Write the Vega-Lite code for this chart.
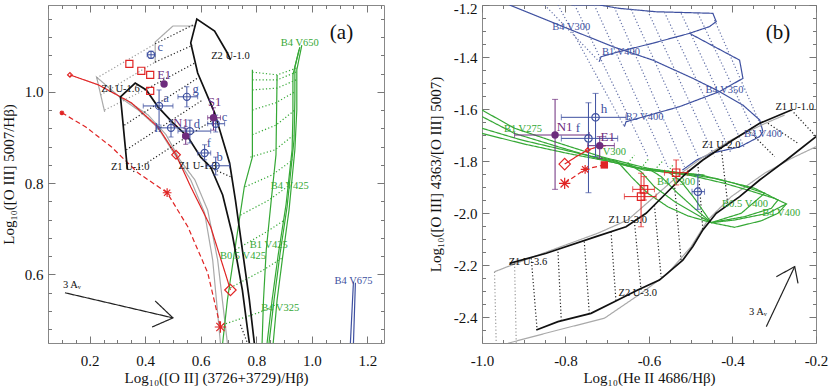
{
"$schema":"https://vega.github.io/schema/vega-lite/v6.json",
"padding":{"left":0,"top":0,"right":0,"bottom":0},
"bounds":"flush",
"spacing":98,
"config":{"font":"Liberation Serif","view":{"stroke":"#888","strokeWidth":1},"axis":{"grid":false,"domain":false,"tickColor":"#777","labelColor":"#111","titleColor":"#111","labelFontSize":15,"titleFontSize":15,"titleFontWeight":"normal","labelFlush":false,"labelOverlap":false}},
"datasets":{
"la":[
{"s":"A","k":"Z","x":0.336,"y":0.83},{"s":"A","k":"Z","x":0.311,"y":0.989},{"s":"A","k":"Z","x":0.364,"y":1.019},{"s":"A","k":"Z","x":0.404,"y":1.004},{"s":"A","k":"Z","x":0.446,"y":0.967},{"s":"A","k":"Z","x":0.5,"y":0.932},{"s":"A","k":"Z","x":0.554,"y":0.901},{"s":"A","k":"Z","x":0.6,"y":0.857},{"s":"A","k":"Z","x":0.636,"y":0.835},{"s":"A","k":"Z","x":0.679,"y":0.774},{"s":"A","k":"Z","x":0.714,"y":0.687},{"s":"A","k":"Z","x":0.75,"y":0.566},{"s":"A","k":"Z","x":0.775,"y":0.45},
{"s":"Bt","k":"Z","x":0.707,"y":1.07},{"s":"Bt","k":"Z","x":0.696,"y":1.085},{"s":"Bt","k":"Z","x":0.65,"y":1.133},{"s":"Bt","k":"Z","x":0.586,"y":1.159},{"s":"Bt","k":"Z","x":0.564,"y":1.107},{"s":"Bt","k":"Z","x":0.589,"y":1.041},{"s":"Bt","k":"Z","x":0.65,"y":0.954},{"s":"Bt","k":"Z","x":0.679,"y":0.895},{"s":"Bt","k":"Z","x":0.704,"y":0.844},{"s":"Bt","k":"Z","x":0.725,"y":0.763},{"s":"Bt","k":"Z","x":0.75,"y":0.654},{"s":"Bt","k":"Z","x":0.775,"y":0.545},{"s":"Bt","k":"Z","x":0.793,"y":0.45},
{"s":"G1","k":"Zg","x":0.254,"y":0.956},{"s":"G1","k":"Zg","x":0.225,"y":1.032},{"s":"G1","k":"Zg","x":0.311,"y":0.987},{"s":"G1","k":"Zg","x":0.375,"y":0.96},{"s":"G1","k":"Zg","x":0.446,"y":0.921},{"s":"G1","k":"Zg","x":0.507,"y":0.862},{"s":"G1","k":"Zg","x":0.564,"y":0.807},{"s":"G1","k":"Zg","x":0.614,"y":0.735},{"s":"G1","k":"Zg","x":0.643,"y":0.632},{"s":"G1","k":"Zg","x":0.671,"y":0.45},
{"s":"G2","k":"Zg","x":0.332,"y":0.982},{"s":"G2","k":"Zg","x":0.411,"y":0.949},{"s":"G2","k":"Zg","x":0.475,"y":0.906},{"s":"G2","k":"Zg","x":0.525,"y":0.851},{"s":"G2","k":"Zg","x":0.579,"y":0.807},{"s":"G2","k":"Zg","x":0.625,"y":0.741},{"s":"G2","k":"Zg","x":0.661,"y":0.632},{"s":"G2","k":"Zg","x":0.696,"y":0.45},
{"s":"G3","k":"Zg","x":0.436,"y":1.063},{"s":"G3","k":"Zg","x":0.436,"y":1.109},{"s":"G3","k":"Zg","x":0.5,"y":1.144},{"s":"G3","k":"Zg","x":0.579,"y":1.144},
{"s":"Rs","k":"R","x":0.129,"y":1.037},{"s":"Rs","k":"R","x":0.232,"y":1.015},{"s":"Rs","k":"R","x":0.35,"y":0.976},{"s":"Rs","k":"R","x":0.446,"y":0.923},{"s":"Rs","k":"R","x":0.511,"y":0.862},{"s":"Rs","k":"R","x":0.564,"y":0.792},{"s":"Rs","k":"R","x":0.636,"y":0.704},{"s":"Rs","k":"R","x":0.696,"y":0.588},{"s":"Rs","k":"R","x":0.707,"y":0.566},
{"s":"Rd","k":"Rd","x":0.1,"y":0.954},{"s":"Rd","k":"Rd","x":0.186,"y":0.923},{"s":"Rd","k":"Rd","x":0.279,"y":0.879},{"s":"Rd","k":"Rd","x":0.375,"y":0.822},{"s":"Rd","k":"Rd","x":0.479,"y":0.779},{"s":"Rd","k":"Rd","x":0.554,"y":0.704},{"s":"Rd","k":"Rd","x":0.625,"y":0.604},{"s":"Rd","k":"Rd","x":0.671,"y":0.485},
{"s":"gL","k":"B","x":0.786,"y":1.048},{"s":"gL","k":"B","x":0.786,"y":0.857},{"s":"gL","k":"B","x":0.757,"y":0.792},{"s":"gL","k":"B","x":0.721,"y":0.647},{"s":"gL","k":"B","x":0.696,"y":0.544},{"s":"gL","k":"B","x":0.679,"y":0.45},
{"s":"gM","k":"B","x":0.875,"y":1.037},{"s":"gM","k":"B","x":0.871,"y":0.862},{"s":"gM","k":"B","x":0.854,"y":0.763},{"s":"gM","k":"B","x":0.836,"y":0.654},{"s":"gM","k":"B","x":0.826,"y":0.544},{"s":"gM","k":"B","x":0.821,"y":0.45},
{"s":"gR1","k":"B","x":0.957,"y":1.098},{"s":"gR1","k":"B","x":0.939,"y":1.054},{"s":"gR1","k":"B","x":0.939,"y":0.982},{"s":"gR1","k":"B","x":0.936,"y":0.895},{"s":"gR1","k":"B","x":0.911,"y":0.748},{"s":"gR1","k":"B","x":0.886,"y":0.647},{"s":"gR1","k":"B","x":0.864,"y":0.544},{"s":"gR1","k":"B","x":0.846,"y":0.45},
{"s":"gR2","k":"B","x":0.964,"y":1.102},{"s":"gR2","k":"B","x":0.946,"y":1.048},{"s":"gR2","k":"B","x":0.946,"y":0.96},{"s":"gR2","k":"B","x":0.939,"y":0.873},{"s":"gR2","k":"B","x":0.918,"y":0.741},{"s":"gR2","k":"B","x":0.896,"y":0.643},{"s":"gR2","k":"B","x":0.875,"y":0.544},{"s":"gR2","k":"B","x":0.861,"y":0.45},
{"s":"gR3","k":"B","x":0.954,"y":1.092},{"s":"gR3","k":"B","x":0.932,"y":1.037},{"s":"gR3","k":"B","x":0.932,"y":0.949},{"s":"gR3","k":"B","x":0.929,"y":0.873},{"s":"gR3","k":"B","x":0.907,"y":0.752},{"s":"gR3","k":"B","x":0.879,"y":0.643},{"s":"gR3","k":"B","x":0.857,"y":0.544},{"s":"gR3","k":"B","x":0.839,"y":0.45},
{"s":"r1","k":"Bd","x":0.786,"y":1.043},{"s":"r1","k":"Bd","x":0.875,"y":1.037},{"s":"r1","k":"Bd","x":0.946,"y":1.052},
{"s":"r2","k":"Bd","x":0.786,"y":1.026},{"s":"r2","k":"Bd","x":0.875,"y":1.026},{"s":"r2","k":"Bd","x":0.943,"y":1.043},
{"s":"r3","k":"Bd","x":0.786,"y":1.004},{"s":"r3","k":"Bd","x":0.875,"y":1.008},{"s":"r3","k":"Bd","x":0.943,"y":1.026},
{"s":"r4","k":"Bd","x":0.786,"y":0.96},{"s":"r4","k":"Bd","x":0.871,"y":0.976},{"s":"r4","k":"Bd","x":0.939,"y":1.0},
{"s":"r5","k":"Bd","x":0.786,"y":0.906},{"s":"r5","k":"Bd","x":0.871,"y":0.927},{"s":"r5","k":"Bd","x":0.939,"y":0.96},
{"s":"r6","k":"Bd","x":0.779,"y":0.857},{"s":"r6","k":"Bd","x":0.868,"y":0.873},{"s":"r6","k":"Bd","x":0.936,"y":0.906},
{"s":"r7","k":"Bd","x":0.761,"y":0.792},{"s":"r7","k":"Bd","x":0.857,"y":0.818},{"s":"r7","k":"Bd","x":0.932,"y":0.851},
{"s":"r8","k":"Bd","x":0.743,"y":0.73},{"s":"r8","k":"Bd","x":0.846,"y":0.763},{"s":"r8","k":"Bd","x":0.921,"y":0.796},
{"s":"r9","k":"Bd","x":0.725,"y":0.654},{"s":"r9","k":"Bd","x":0.836,"y":0.693},{"s":"r9","k":"Bd","x":0.904,"y":0.72},
{"s":"r10","k":"Bd","x":0.707,"y":0.571},{"s":"r10","k":"Bd","x":0.826,"y":0.61},{"s":"r10","k":"Bd","x":0.893,"y":0.636},
{"s":"r11","k":"Bd","x":0.679,"y":0.49},{"s":"r11","k":"Bd","x":0.816,"y":0.518},{"s":"r11","k":"Bd","x":0.868,"y":0.533},
{"s":"d1g","k":"Zgd","x":0.225,"y":1.03},{"s":"d1g","k":"Zgd","x":0.436,"y":1.105},
{"s":"d2g","k":"Zgd","x":0.239,"y":0.993},{"s":"d2g","k":"Zgd","x":0.436,"y":1.065},
{"s":"d3g","k":"Zgd","x":0.254,"y":0.96},{"s":"d3g","k":"Zgd","x":0.411,"y":1.008},
{"s":"d1b","k":"Zd","x":0.436,"y":1.105},{"s":"d1b","k":"Zd","x":0.571,"y":1.146},
{"s":"d2b","k":"Zd","x":0.436,"y":1.065},{"s":"d2b","k":"Zd","x":0.571,"y":1.102},
{"s":"d3b","k":"Zd","x":0.411,"y":1.008},{"s":"d3b","k":"Zd","x":0.579,"y":1.063},
{"s":"d4","k":"Zd","x":0.325,"y":0.927},{"s":"d4","k":"Zd","x":0.589,"y":1.03},
{"s":"d5","k":"Zd","x":0.332,"y":0.873},{"s":"d5","k":"Zd","x":0.607,"y":0.982},
{"s":"d6","k":"Zd","x":0.357,"y":0.825},{"s":"d6","k":"Zd","x":0.643,"y":0.938},
{"s":"d7","k":"Zd","x":0.636,"y":0.833},{"s":"d7","k":"Zd","x":0.707,"y":0.814},
{"s":"d8","k":"Zd","x":0.743,"y":0.49},{"s":"d8","k":"Zd","x":0.768,"y":0.45},
{"s":"bv1","k":"Bb","x":1.15,"y":0.584},{"s":"bv1","k":"Bb","x":1.139,"y":0.45},
{"s":"bv2","k":"Bb","x":1.157,"y":0.582},{"s":"bv2","k":"Bb","x":1.15,"y":0.45},
{"s":"ar","k":"Ar","x":0.111,"y":0.56},{"s":"ar","k":"Ar","x":0.5,"y":0.505},
{"s":"ah","k":"Ar","x":0.436,"y":0.542},{"s":"ah","k":"Ar","x":0.5,"y":0.505},{"s":"ah","k":"Ar","x":0.425,"y":0.485}
],
"lb":[
{"s":"BLt","k":"Bb","x":-0.786,"y":-1.2},{"s":"BLt","k":"Bb","x":-0.719,"y":-1.2},{"s":"BLt","k":"Bb","x":-0.671,"y":-1.213},{"s":"BLt","k":"Bb","x":-0.583,"y":-1.226},{"s":"BLt","k":"Bb","x":-0.447,"y":-1.232},{"s":"BLt","k":"Bb","x":-0.439,"y":-1.264},{"s":"BLt","k":"Bb","x":-0.455,"y":-1.283},{"s":"BLt","k":"Bb","x":-0.503,"y":-1.309},{"s":"BLt","k":"Bb","x":-0.591,"y":-1.347},{"s":"BLt","k":"Bb","x":-0.671,"y":-1.379},{"s":"BLt","k":"Bb","x":-0.715,"y":-1.399},{"s":"BLt","k":"Bb","x":-0.719,"y":-1.418},
{"s":"BLa","k":"Bb","x":-0.934,"y":-1.2},{"s":"BLa","k":"Bb","x":-0.806,"y":-1.283},{"s":"BLa","k":"Bb","x":-0.687,"y":-1.36},{"s":"BLa","k":"Bb","x":-0.591,"y":-1.412},{"s":"BLa","k":"Bb","x":-0.495,"y":-1.482},{"s":"BLa","k":"Bb","x":-0.431,"y":-1.533},{"s":"BLa","k":"Bb","x":-0.375,"y":-1.585},{"s":"BLa","k":"Bb","x":-0.335,"y":-1.642},{"s":"BLa","k":"Bb","x":-0.327,"y":-1.687},{"s":"BLa","k":"Bb","x":-0.335,"y":-1.706},{"s":"BLa","k":"Bb","x":-0.383,"y":-1.746},{"s":"BLa","k":"Bb","x":-0.448,"y":-1.769},{"s":"BLa","k":"Bb","x":-0.486,"y":-1.796},{"s":"BLa","k":"Bb","x":-0.52,"y":-1.835},
{"s":"BLc","k":"Bb","x":-0.503,"y":-1.309},{"s":"BLc","k":"Bb","x":-0.383,"y":-1.412},{"s":"BLc","k":"Bb","x":-0.375,"y":-1.482},{"s":"BLc","k":"Bb","x":-0.431,"y":-1.533},{"s":"BLc","k":"Bb","x":-0.527,"y":-1.591},{"s":"BLc","k":"Bb","x":-0.655,"y":-1.649},{"s":"BLc","k":"Bb","x":-0.659,"y":-1.668},
{"s":"bd1","k":"Bbd","x":-0.85,"y":-1.2},{"s":"bd1","k":"Bbd","x":-0.719,"y":-1.418},
{"s":"bd2","k":"Bbd","x":-0.818,"y":-1.2},{"s":"bd2","k":"Bbd","x":-0.659,"y":-1.668},
{"s":"bd3","k":"Bbd","x":-0.778,"y":-1.2},{"s":"bd3","k":"Bbd","x":-0.603,"y":-1.783},
{"s":"bd4","k":"Bbd","x":-0.731,"y":-1.2},{"s":"bd4","k":"Bbd","x":-0.555,"y":-1.822},
{"s":"bd5","k":"Bbd","x":-0.683,"y":-1.209},{"s":"bd5","k":"Bbd","x":-0.515,"y":-1.822},
{"s":"bd6","k":"Bbd","x":-0.643,"y":-1.217},{"s":"bd6","k":"Bbd","x":-0.475,"y":-1.809},
{"s":"bd7","k":"Bbd","x":-0.603,"y":-1.223},{"s":"bd7","k":"Bbd","x":-0.443,"y":-1.783},
{"s":"bd8","k":"Bbd","x":-0.563,"y":-1.228},{"s":"bd8","k":"Bbd","x":-0.403,"y":-1.771},
{"s":"bd9","k":"Bbd","x":-0.523,"y":-1.232},{"s":"bd9","k":"Bbd","x":-0.371,"y":-1.751},
{"s":"bd10","k":"Bbd","x":-0.483,"y":-1.232},{"s":"bd10","k":"Bbd","x":-0.339,"y":-1.719},
{"s":"bd11","k":"Bbd","x":-0.443,"y":-1.258},{"s":"bd11","k":"Bbd","x":-0.331,"y":-1.668},
{"s":"BU","k":"Z","x":-0.934,"y":-2.194},{"s":"BU","k":"Z","x":-0.846,"y":-2.155},{"s":"BU","k":"Z","x":-0.727,"y":-2.091},{"s":"BU","k":"Z","x":-0.655,"y":-2.053},{"s":"BU","k":"Z","x":-0.607,"y":-2.001},{"s":"BU","k":"Z","x":-0.559,"y":-1.924},{"s":"BU","k":"Z","x":-0.511,"y":-1.847},{"s":"BU","k":"Z","x":-0.471,"y":-1.796},{"s":"BU","k":"Z","x":-0.399,"y":-1.719},{"s":"BU","k":"Z","x":-0.335,"y":-1.655},{"s":"BU","k":"Z","x":-0.259,"y":-1.604},
{"s":"BLo","k":"Z","x":-0.87,"y":-2.45},{"s":"BLo","k":"Z","x":-0.818,"y":-2.418},{"s":"BLo","k":"Z","x":-0.739,"y":-2.386},{"s":"BLo","k":"Z","x":-0.683,"y":-2.341},{"s":"BLo","k":"Z","x":-0.627,"y":-2.296},{"s":"BLo","k":"Z","x":-0.575,"y":-2.258},{"s":"BLo","k":"Z","x":-0.519,"y":-2.181},{"s":"BLo","k":"Z","x":-0.495,"y":-2.129},{"s":"BLo","k":"Z","x":-0.471,"y":-2.065},{"s":"BLo","k":"Z","x":-0.439,"y":-2.001},{"s":"BLo","k":"Z","x":-0.383,"y":-1.937},{"s":"BLo","k":"Z","x":-0.335,"y":-1.873},{"s":"BLo","k":"Z","x":-0.271,"y":-1.796},{"s":"BLo","k":"Z","x":-0.2,"y":-1.706},
{"s":"GU","k":"Zg","x":-0.97,"y":-2.226},{"s":"GU","k":"Zg","x":-0.898,"y":-2.181},{"s":"GU","k":"Zg","x":-0.81,"y":-2.129},{"s":"GU","k":"Zg","x":-0.723,"y":-2.078},{"s":"GU","k":"Zg","x":-0.651,"y":-2.027},{"s":"GU","k":"Zg","x":-0.587,"y":-1.937},{"s":"GU","k":"Zg","x":-0.523,"y":-1.847},{"s":"GU","k":"Zg","x":-0.475,"y":-1.79},{"s":"GU","k":"Zg","x":-0.403,"y":-1.719},{"s":"GU","k":"Zg","x":-0.331,"y":-1.662},{"s":"GU","k":"Zg","x":-0.275,"y":-1.623},
{"s":"GLo","k":"Zg","x":-0.938,"y":-2.501},{"s":"GLo","k":"Zg","x":-0.818,"y":-2.45},{"s":"GLo","k":"Zg","x":-0.707,"y":-2.405},{"s":"GLo","k":"Zg","x":-0.619,"y":-2.309},{"s":"GLo","k":"Zg","x":-0.555,"y":-2.232},{"s":"GLo","k":"Zg","x":-0.499,"y":-2.129},{"s":"GLo","k":"Zg","x":-0.459,"y":-2.027},{"s":"GLo","k":"Zg","x":-0.403,"y":-1.937},{"s":"GLo","k":"Zg","x":-0.323,"y":-1.847},{"s":"GLo","k":"Zg","x":-0.259,"y":-1.79},{"s":"GLo","k":"Zg","x":-0.2,"y":-1.745},
{"s":"zd1","k":"Zd","x":-0.882,"y":-2.174},{"s":"zd1","k":"Zd","x":-0.868,"y":-2.45},
{"s":"zd2","k":"Zd","x":-0.818,"y":-2.149},{"s":"zd2","k":"Zd","x":-0.81,"y":-2.418},
{"s":"zd3","k":"Zd","x":-0.755,"y":-2.11},{"s":"zd3","k":"Zd","x":-0.743,"y":-2.386},
{"s":"zd4","k":"Zd","x":-0.691,"y":-2.072},{"s":"zd4","k":"Zd","x":-0.679,"y":-2.341},
{"s":"zd5","k":"Zd","x":-0.635,"y":-2.033},{"s":"zd5","k":"Zd","x":-0.619,"y":-2.296},
{"s":"zd6","k":"Zd","x":-0.587,"y":-1.97},{"s":"zd6","k":"Zd","x":-0.571,"y":-2.245},
{"s":"zd7","k":"Zd","x":-0.539,"y":-1.89},{"s":"zd7","k":"Zd","x":-0.523,"y":-2.187},
{"s":"zd8","k":"Zd","x":-0.483,"y":-1.81},{"s":"zd8","k":"Zd","x":-0.471,"y":-2.065},
{"s":"zd9","k":"Zd","x":-0.427,"y":-1.75},{"s":"zd9","k":"Zd","x":-0.411,"y":-1.97},
{"s":"zd10","k":"Zd","x":-0.259,"y":-1.604},{"s":"zd10","k":"Zd","x":-0.2,"y":-1.706},
{"s":"zd11","k":"Zd","x":-0.315,"y":-1.655},{"s":"zd11","k":"Zd","x":-0.243,"y":-1.732},
{"s":"zd12","k":"Zd","x":-0.363,"y":-1.681},{"s":"zd12","k":"Zd","x":-0.299,"y":-1.783},
{"s":"gd1","k":"Zgd","x":-0.97,"y":-2.226},{"s":"gd1","k":"Zgd","x":-0.966,"y":-2.5},
{"s":"gd2","k":"Zgd","x":-0.922,"y":-2.194},{"s":"gd2","k":"Zgd","x":-0.918,"y":-2.5},
{"s":"GL1","k":"B","x":-1.0,"y":-1.604},{"s":"GL1","k":"B","x":-0.922,"y":-1.674},{"s":"GL1","k":"B","x":-0.826,"y":-1.726},{"s":"GL1","k":"B","x":-0.715,"y":-1.783},{"s":"GL1","k":"B","x":-0.651,"y":-1.809},{"s":"GL1","k":"B","x":-0.603,"y":-1.828},{"s":"GL1","k":"B","x":-0.523,"y":-1.847},{"s":"GL1","k":"B","x":-0.443,"y":-1.867},{"s":"GL1","k":"B","x":-0.395,"y":-1.886},{"s":"GL1","k":"B","x":-0.323,"y":-1.924},{"s":"GL1","k":"B","x":-0.291,"y":-1.95},{"s":"GL1","k":"B","x":-0.307,"y":-1.982},{"s":"GL1","k":"B","x":-0.371,"y":-2.014},{"s":"GL1","k":"B","x":-0.451,"y":-2.037},
{"s":"GL2","k":"B","x":-1.0,"y":-1.629},{"s":"GL2","k":"B","x":-0.922,"y":-1.694},{"s":"GL2","k":"B","x":-0.818,"y":-1.745},{"s":"GL2","k":"B","x":-0.715,"y":-1.794},{"s":"GL2","k":"B","x":-0.643,"y":-1.822},{"s":"GL2","k":"B","x":-0.571,"y":-1.841},{"s":"GL2","k":"B","x":-0.499,"y":-1.856},{"s":"GL2","k":"B","x":-0.419,"y":-1.886},{"s":"GL2","k":"B","x":-0.363,"y":-1.912},{"s":"GL2","k":"B","x":-0.299,"y":-1.944},{"s":"GL2","k":"B","x":-0.271,"y":-1.965},{"s":"GL2","k":"B","x":-0.315,"y":-2.001},{"s":"GL2","k":"B","x":-0.395,"y":-2.027},{"s":"GL2","k":"B","x":-0.451,"y":-2.037},
{"s":"GL3","k":"B","x":-1.0,"y":-1.674},{"s":"GL3","k":"B","x":-0.906,"y":-1.719},{"s":"GL3","k":"B","x":-0.802,"y":-1.758},{"s":"GL3","k":"B","x":-0.699,"y":-1.796},{"s":"GL3","k":"B","x":-0.619,"y":-1.828},{"s":"GL3","k":"B","x":-0.547,"y":-1.841},{"s":"GL3","k":"B","x":-0.475,"y":-1.854},{"s":"GL3","k":"B","x":-0.411,"y":-1.879},{"s":"GL3","k":"B","x":-0.347,"y":-1.905},{"s":"GL3","k":"B","x":-0.323,"y":-1.924},{"s":"GL3","k":"B","x":-0.379,"y":-2.001},{"s":"GL3","k":"B","x":-0.451,"y":-2.037},
{"s":"GL4","k":"B","x":-1.0,"y":-1.694},{"s":"GL4","k":"B","x":-0.898,"y":-1.735},{"s":"GL4","k":"B","x":-0.794,"y":-1.771},{"s":"GL4","k":"B","x":-0.691,"y":-1.803},{"s":"GL4","k":"B","x":-0.611,"y":-1.835},{"s":"GL4","k":"B","x":-0.539,"y":-1.845},{"s":"GL4","k":"B","x":-0.467,"y":-1.854},
{"s":"Garc","k":"B","x":-0.451,"y":-2.037},{"s":"Garc","k":"B","x":-0.395,"y":-2.055},{"s":"Garc","k":"B","x":-0.331,"y":-2.03},{"s":"Garc","k":"B","x":-0.291,"y":-2.001},{"s":"Garc","k":"B","x":-0.271,"y":-1.965},
{"s":"GC1","k":"B","x":-0.715,"y":-1.786},{"s":"GC1","k":"B","x":-0.675,"y":-1.803},{"s":"GC1","k":"B","x":-0.643,"y":-1.86},{"s":"GC1","k":"B","x":-0.603,"y":-1.924},{"s":"GC1","k":"B","x":-0.555,"y":-1.976},{"s":"GC1","k":"B","x":-0.507,"y":-2.011},{"s":"GC1","k":"B","x":-0.451,"y":-2.037},
{"s":"GC2","k":"B","x":-0.651,"y":-1.809},{"s":"GC2","k":"B","x":-0.619,"y":-1.841},{"s":"GC2","k":"B","x":-0.587,"y":-1.899},{"s":"GC2","k":"B","x":-0.539,"y":-1.956},{"s":"GC2","k":"B","x":-0.491,"y":-2.001},{"s":"GC2","k":"B","x":-0.451,"y":-2.037},
{"s":"GC3","k":"B","x":-0.603,"y":-1.828},{"s":"GC3","k":"B","x":-0.571,"y":-1.86},{"s":"GC3","k":"B","x":-0.531,"y":-1.924},{"s":"GC3","k":"B","x":-0.491,"y":-1.982},{"s":"GC3","k":"B","x":-0.451,"y":-2.037},
{"s":"GC4","k":"B","x":-0.555,"y":-1.841},{"s":"GC4","k":"B","x":-0.523,"y":-1.879},{"s":"GC4","k":"B","x":-0.491,"y":-1.944},{"s":"GC4","k":"B","x":-0.451,"y":-2.037},
{"s":"h1","k":"Bd","x":-0.651,"y":-1.809},{"s":"h1","k":"Bd","x":-0.635,"y":-1.777},
{"s":"h2","k":"Bd","x":-0.619,"y":-1.828},{"s":"h2","k":"Bd","x":-0.6,"y":-1.79},
{"s":"h3","k":"Bd","x":-0.587,"y":-1.835},{"s":"h3","k":"Bd","x":-0.567,"y":-1.8},
{"s":"h4","k":"Bd","x":-0.555,"y":-1.841},{"s":"h4","k":"Bd","x":-0.54,"y":-1.81},
{"s":"Rs","k":"R","x":-0.802,"y":-1.812},{"s":"Rs","k":"R","x":-0.774,"y":-1.783},{"s":"Rs","k":"R","x":-0.747,"y":-1.758},{"s":"Rs","k":"R","x":-0.723,"y":-1.745},{"s":"Rs","k":"R","x":-0.703,"y":-1.741},
{"s":"Rd","k":"Rd","x":-0.802,"y":-1.886},{"s":"Rd","k":"Rd","x":-0.753,"y":-1.832},{"s":"Rd","k":"Rd","x":-0.707,"y":-1.815},
{"s":"ar","k":"Ar","x":-0.319,"y":-2.437},{"s":"ar","k":"Ar","x":-0.251,"y":-2.206},
{"s":"ah","k":"Ar","x":-0.295,"y":-2.245},{"s":"ah","k":"Ar","x":-0.251,"y":-2.206},{"s":"ah","k":"Ar","x":-0.243,"y":-2.271}
],
"ea":[
{"x":0.421,"y":1.081,"xlo":0.407,"xhi":0.436,"ylo":1.073,"yhi":1.089,"k":"knot"},
{"x":0.45,"y":0.969,"xlo":0.393,"xhi":0.5,"ylo":0.927,"yhi":1.004,"k":"knot"},
{"x":0.55,"y":0.989,"xlo":0.518,"xhi":0.589,"ylo":0.967,"yhi":1.011,"k":"knot"},
{"x":0.493,"y":0.921,"xlo":0.439,"xhi":0.543,"ylo":0.901,"yhi":0.938,"k":"knot"},
{"x":0.561,"y":0.914,"xlo":0.518,"xhi":0.636,"ylo":0.888,"yhi":0.938,"k":"knot"},
{"x":0.654,"y":0.93,"xlo":0.625,"xhi":0.686,"ylo":0.912,"yhi":0.949,"k":"knot"},
{"x":0.614,"y":0.866,"xlo":0.589,"xhi":0.636,"ylo":0.851,"yhi":0.884,"k":"knot"},
{"x":0.654,"y":0.838,"xlo":0.618,"xhi":0.704,"ylo":0.818,"yhi":0.857,"k":"knot"},
{"x":0.646,"y":0.943,"xlo":0.625,"xhi":0.671,"ylo":0.916,"yhi":0.965,"k":"star"},
{"x":0.546,"y":0.903,"xlo":0.535,"xhi":0.557,"ylo":0.885,"yhi":0.92,"k":"star"}
],
"eb":[
{"x":-0.825,"y":-1.7,"xlo":-0.922,"xhi":-0.743,"ylo":-1.909,"yhi":-1.563,"k":"star"},
{"x":-0.718,"y":-1.741,"xlo":-0.747,"xhi":-0.683,"ylo":-1.79,"yhi":-1.706,"k":"star"},
{"x":-0.745,"y":-1.713,"xlo":-0.81,"xhi":-0.675,"ylo":-1.922,"yhi":-1.576,"k":"knot"},
{"x":-0.728,"y":-1.632,"xlo":-0.81,"xhi":-0.655,"ylo":-1.783,"yhi":-1.54,"k":"knot"},
{"x":-0.483,"y":-1.918,"xlo":-0.497,"xhi":-0.467,"ylo":-1.986,"yhi":-1.854,"k":"knot"},
{"x":-0.612,"y":-1.909,"xlo":-0.639,"xhi":-0.587,"ylo":-1.95,"yhi":-1.86,"k":"sq"},
{"x":-0.619,"y":-1.937,"xlo":-0.659,"xhi":-0.583,"ylo":-2.053,"yhi":-1.847,"k":"sq"},
{"x":-0.535,"y":-1.845,"xlo":-0.563,"xhi":-0.507,"ylo":-1.892,"yhi":-1.796,"k":"sq"}
],
"pa":[
{"g":"knot","x":0.421,"y":1.081},{"g":"knot","x":0.45,"y":0.969},{"g":"knot","x":0.55,"y":0.989},{"g":"knot","x":0.493,"y":0.921},{"g":"knot","x":0.561,"y":0.914},{"g":"knot","x":0.654,"y":0.93},{"g":"knot","x":0.614,"y":0.866},{"g":"knot","x":0.654,"y":0.838},
{"g":"sq","x":0.343,"y":1.061},{"g":"sq","x":0.386,"y":1.046},{"g":"sq","x":0.418,"y":1.037},{"g":"sq","x":0.418,"y":1.002},
{"g":"solid","n":1,"x":0.129,"y":1.037},{"g":"solid","n":2,"x":0.511,"y":0.862},{"g":"solid","n":3,"x":0.707,"y":0.566},
{"g":"dash","n":1,"x":0.1,"y":0.954},{"g":"dash","n":2,"x":0.479,"y":0.779},{"g":"dash","n":3,"x":0.671,"y":0.485}
],
"pb":[
{"g":"knot","x":-0.745,"y":-1.713},{"g":"knot","x":-0.728,"y":-1.632},{"g":"knot","x":-0.483,"y":-1.918},
{"g":"sq","x":-0.612,"y":-1.909},{"g":"sq","x":-0.619,"y":-1.937},{"g":"sq","x":-0.535,"y":-1.845},
{"g":"solid","n":3,"x":-0.802,"y":-1.812},{"g":"solid","n":1,"x":-0.747,"y":-1.758},
{"g":"dash","n":3,"x":-0.802,"y":-1.886},{"g":"dash","n":2,"x":-0.753,"y":-1.832}
],
"fa":[{"g":"star","x":0.468,"y":1.017},{"g":"star","x":0.646,"y":0.943},{"g":"star","x":0.546,"y":0.903}],
"fb":[{"g":"star","x":-0.825,"y":-1.7},{"g":"star","x":-0.718,"y":-1.741},{"g":"sq","x":-0.707,"y":-1.815}],
"ta":[
{"t":"Z2 U-1.0","x":0.707,"y":1.078,"k":"Z"},{"t":"Z1 U-1.6","x":0.311,"y":1.006,"k":"Z"},{"t":"Z1 U-1.0","x":0.346,"y":0.835,"k":"Z"},{"t":"Z1 U-1.3","x":0.589,"y":0.838,"k":"Z"},
{"t":"B4 V650","x":0.957,"y":1.107,"k":"B"},{"t":"B4 V425","x":0.921,"y":0.794,"k":"B"},{"t":"B1 V425","x":0.845,"y":0.664,"k":"B"},{"t":"B0.5 V425","x":0.752,"y":0.641,"k":"B"},{"t":"B4 V325","x":0.886,"y":0.527,"k":"B"},
{"t":"B4 V675","x":1.15,"y":0.586,"k":"Bb"},{"t":"3 Aᵥ","x":0.136,"y":0.577,"k":"Z"}
],
"oa":[
{"t":"c","x":0.454,"y":1.098,"k":"knot"},{"t":"a","x":0.475,"y":0.987,"k":"knot"},{"t":"g","x":0.582,"y":1.006,"k":"knot"},{"t":"h","x":0.446,"y":0.921,"k":"knot"},{"t":"d","x":0.586,"y":0.93,"k":"knot"},{"t":"c","x":0.686,"y":0.945,"k":"knot"},{"t":"f","x":0.629,"y":0.888,"k":"knot"},{"t":"b","x":0.668,"y":0.857,"k":"knot"},
{"t":"E1","x":0.468,"y":1.037,"k":"star"},{"t":"S1","x":0.65,"y":0.978,"k":"star"},{"t":"N1","x":0.529,"y":0.932,"k":"star"}
],
"tb":[
{"t":"B1 V275","x":-0.902,"y":-1.677,"k":"B"},{"t":"V300","x":-0.683,"y":-1.764,"k":"B"},{"t":"B4 V300","x":-0.535,"y":-1.879,"k":"B"},{"t":"B0.5 V400","x":-0.37,"y":-1.965,"k":"B"},{"t":"B4 V400","x":-0.283,"y":-1.999,"k":"B"},
{"t":"B4 V300","x":-0.786,"y":-1.283,"k":"Bb"},{"t":"B1 V400","x":-0.667,"y":-1.379,"k":"Bb"},{"t":"B4 V350","x":-0.419,"y":-1.527,"k":"Bb"},{"t":"B2 V400","x":-0.611,"y":-1.629,"k":"Bb"},{"t":"B4 V400","x":-0.327,"y":-1.697,"k":"Bb"},
{"t":"Z1 U-1.0","x":-0.251,"y":-1.591,"k":"Z"},{"t":"Z1 U-2.0","x":-0.427,"y":-1.738,"k":"Z"},{"t":"Z1 U-3.0","x":-0.651,"y":-2.027,"k":"Z"},{"t":"Z1 U-3.6","x":-0.89,"y":-2.187,"k":"Z"},{"t":"Z2 U-3.0","x":-0.627,"y":-2.309,"k":"Z"},{"t":"3 Aᵥ","x":-0.339,"y":-2.379,"k":"Z"}
],
"ob":[
{"t":"N1","x":-0.802,"y":-1.668,"k":"star"},{"t":"f","x":-0.77,"y":-1.674,"k":"knot"},{"t":"h","x":-0.708,"y":-1.601,"k":"knot"},{"t":"E1","x":-0.699,"y":-1.709,"k":"star"}
]
},
"hconcat":[
{
"width":336,"height":338,
"resolve":{"axis":{"x":"independent","y":"independent"}},
"layer":[
{"data":{"name":"la"},"transform":[{"filter":"datum.k != 'Z'"}],"mark":{"type":"line","clip":true,"strokeWidth":1.2},
"encoding":{
"x":{"field":"x","type":"quantitative","scale":{"domain":[0.05,1.26],"nice":false,"zero":false},"axis":{"orient":"bottom","values":[0.2,0.4,0.6,0.8,1.0,1.2],"format":".1f","title":"Log₁₀([O II] (3726+3729)/Hβ)","tickSize":-7,"labelPadding":17,"titlePadding":2}},
"y":{"field":"y","type":"quantitative","scale":{"domain":[0.45,1.19],"nice":false,"zero":false},"axis":{"orient":"left","values":[0.6,0.8,1.0],"format":".1f","title":"Log₁₀([O III] 5007/Hβ)","tickSize":-7,"labelPadding":12,"titlePadding":8}},
"color":{"field":"k","type":"nominal","legend":null,"scale":{"domain":["Z","Zg","Zd","Zgd","B","Bd","Bb","Bbd","R","Rd","Ar","knot","star","solid","dash","sq"],"range":["#111111","#a9a9a9","#222222","#999999","#35a835","#35a835","#3e50a0","#6471a8","#e02424","#e02424","#222222","#3e50a0","#6d2c7d","#e02424","#e02424","#e02424"]}},
"strokeDash":{"field":"k","type":"nominal","legend":null,"scale":{"domain":["Z","Zg","Zd","Zgd","B","Bd","Bb","Bbd","R","Rd","Ar"],"range":[[1,0],[1,0],[1.2,2.2],[1.2,2.2],[1,0],[1.2,2.2],[1,0],[1.2,2.2],[1,0],[5,3],[1,0]]}},
"detail":{"field":"s","type":"nominal"},
"order":{"value":null}}},
{"data":{"name":"la"},"transform":[{"filter":"datum.k == 'Z'"}],"mark":{"type":"line","clip":true,"strokeWidth":1.7,"color":"#111111"},
"encoding":{"x":{"field":"x","type":"quantitative","axis":null},"y":{"field":"y","type":"quantitative","axis":null},"detail":{"field":"s","type":"nominal"},"order":{"value":null}}},
{"data":{"name":"ea"},"mark":{"type":"rule","strokeWidth":1},
"encoding":{"x":{"field":"xlo","type":"quantitative","axis":{"orient":"bottom","values":[0.05,0.1,0.15,0.25,0.3,0.35,0.45,0.5,0.55,0.65,0.7,0.75,0.85,0.9,0.95,1.05,1.1,1.15,1.25],"labels":false,"tickSize":-3.5,"title":null}},"x2":{"field":"xhi"},
"y":{"field":"y","type":"quantitative","axis":{"orient":"left","values":[0.48,0.52,0.56,0.64,0.68,0.72,0.76,0.84,0.88,0.92,0.96,1.04,1.08,1.12,1.16],"labels":false,"tickSize":-3.5,"title":null}},
"color":{"field":"k","type":"nominal","legend":null}}},
{"data":{"name":"ea"},"mark":{"type":"rule","strokeWidth":1},
"encoding":{"x":{"field":"x","type":"quantitative","axis":{"orient":"top","values":[0.2,0.4,0.6,0.8,1.0,1.2],"labels":false,"tickSize":-7,"title":null}},
"y":{"field":"ylo","type":"quantitative","axis":{"orient":"right","values":[0.6,0.8,1.0],"labels":false,"tickSize":-7,"title":null}},"y2":{"field":"yhi"},
"color":{"field":"k","type":"nominal","legend":null}}},
{"data":{"name":"ea"},"mark":{"type":"tick","orient":"horizontal","size":5,"thickness":1},"encoding":{"x":{"field":"x","type":"quantitative","axis":null},"y":{"field":"ylo","type":"quantitative","axis":null},"color":{"field":"k","type":"nominal","legend":null}}},
{"data":{"name":"ea"},"mark":{"type":"tick","orient":"horizontal","size":5,"thickness":1},"encoding":{"x":{"field":"x","type":"quantitative","axis":null},"y":{"field":"yhi","type":"quantitative","axis":null},"color":{"field":"k","type":"nominal","legend":null}}},
{"data":{"name":"ea"},"mark":{"type":"tick","orient":"vertical","size":5,"thickness":1},"encoding":{"x":{"field":"xlo","type":"quantitative","axis":null},"y":{"field":"y","type":"quantitative","axis":null},"color":{"field":"k","type":"nominal","legend":null}}},
{"data":{"name":"ea"},"mark":{"type":"tick","orient":"vertical","size":5,"thickness":1},"encoding":{"x":{"field":"xhi","type":"quantitative","axis":null},"y":{"field":"y","type":"quantitative","axis":null},"color":{"field":"k","type":"nominal","legend":null}}},
{"data":{"name":"pa"},"transform":[{"filter":"datum.g == 'knot' || datum.g == 'sq'"}],"mark":{"type":"point","filled":false,"strokeWidth":1.2,"size":50,"opacity":1},
"encoding":{"x":{"field":"x","type":"quantitative","axis":{"orient":"top","values":[0.05,0.1,0.15,0.25,0.3,0.35,0.45,0.5,0.55,0.65,0.7,0.75,0.85,0.9,0.95,1.05,1.1,1.15,1.25],"labels":false,"tickSize":-3.5,"title":null}},
"y":{"field":"y","type":"quantitative","axis":{"orient":"right","values":[0.48,0.52,0.56,0.64,0.68,0.72,0.76,0.84,0.88,0.92,0.96,1.04,1.08,1.12,1.16],"labels":false,"tickSize":-3.5,"title":null}},
"shape":{"field":"g","type":"nominal","legend":null,"scale":{"domain":["knot","solid","dash","sq","star"],"range":["circle","diamond","M-1,0L1,0M0,-1L0,1M-0.72,-0.72L0.72,0.72M-0.72,0.72L0.72,-0.72","square","circle"]}},
"color":{"field":"g","type":"nominal","legend":null}}},
{"data":{"name":"pa"},"transform":[{"filter":"datum.g == 'solid' || datum.g == 'dash'"}],"mark":{"type":"point","filled":false,"strokeWidth":1.2,"opacity":1},
"encoding":{"x":{"field":"x","type":"quantitative","axis":null},"y":{"field":"y","type":"quantitative","axis":null},
"shape":{"field":"g","type":"nominal","legend":null},"color":{"field":"g","type":"nominal","legend":null},
"size":{"field":"n","type":"quantitative","legend":null,"scale":{"domain":[1,3],"range":[22,130]}}}},
{"data":{"name":"fa"},"mark":{"type":"point","filled":true,"size":55,"opacity":1},
"encoding":{"x":{"field":"x","type":"quantitative","axis":null},"y":{"field":"y","type":"quantitative","axis":null},"shape":{"field":"g","type":"nominal","legend":null},"color":{"field":"g","type":"nominal","legend":null}}},
{"data":{"name":"ta"},"mark":{"type":"text","fontSize":10.5,"align":"center","baseline":"middle"},
"encoding":{"x":{"field":"x","type":"quantitative","axis":null},"y":{"field":"y","type":"quantitative","axis":null},"text":{"field":"t"},"color":{"field":"k","type":"nominal","legend":null}}},
{"data":{"name":"oa"},"mark":{"type":"text","fontSize":12.5,"align":"center","baseline":"middle"},
"encoding":{"x":{"field":"x","type":"quantitative","axis":null},"y":{"field":"y","type":"quantitative","axis":null},"text":{"field":"t"},"color":{"field":"k","type":"nominal","legend":null}}},
{"data":{"values":[{"t":"(a)","x":1.107,"y":1.129}]},"mark":{"type":"text","fontSize":21,"align":"center","baseline":"middle","color":"#111"},
"encoding":{"x":{"field":"x","type":"quantitative","axis":null},"y":{"field":"y","type":"quantitative","axis":null},"text":{"field":"t"}}}
]
},
{
"width":334,"height":338,
"resolve":{"axis":{"x":"independent","y":"independent"}},
"layer":[
{"data":{"name":"lb"},"transform":[{"filter":"datum.k != 'Z'"}],"mark":{"type":"line","clip":true,"strokeWidth":1.2},
"encoding":{
"x":{"field":"x","type":"quantitative","scale":{"domain":[-1.0,-0.2],"nice":false,"zero":false},"axis":{"orient":"bottom","values":[-1.0,-0.8,-0.6,-0.4,-0.2],"format":".1f","labelExpr":"replace(datum.label, '−', '-')","title":"Log₁₀(He II 4686/Hβ)","tickSize":-7,"labelPadding":17,"titlePadding":2}},
"y":{"field":"y","type":"quantitative","scale":{"domain":[-2.5,-1.2],"nice":false,"zero":false},"axis":{"orient":"left","values":[-2.4,-2.2,-2.0,-1.8,-1.6,-1.4],"format":".1f","labelExpr":"replace(datum.label, '−', '-')","title":"Log₁₀([O III] 4363/[O III] 5007)","tickSize":-7,"labelPadding":12,"titlePadding":10}},
"color":{"field":"k","type":"nominal","legend":null,"scale":{"domain":["Z","Zg","Zd","Zgd","B","Bd","Bb","Bbd","R","Rd","Ar","knot","star","solid","dash","sq"],"range":["#111111","#a9a9a9","#222222","#999999","#35a835","#35a835","#3e50a0","#6471a8","#e02424","#e02424","#222222","#3e50a0","#6d2c7d","#e02424","#e02424","#e02424"]}},
"strokeDash":{"field":"k","type":"nominal","legend":null,"scale":{"domain":["Z","Zg","Zd","Zgd","B","Bd","Bb","Bbd","R","Rd","Ar"],"range":[[1,0],[1,0],[1.2,2.2],[1.2,2.2],[1,0],[1.2,2.2],[1,0],[1.2,2.2],[1,0],[5,3],[1,0]]}},
"detail":{"field":"s","type":"nominal"},
"order":{"value":null}}},
{"data":{"name":"lb"},"transform":[{"filter":"datum.k == 'Z'"}],"mark":{"type":"line","clip":true,"strokeWidth":1.7,"color":"#111111"},
"encoding":{"x":{"field":"x","type":"quantitative","axis":null},"y":{"field":"y","type":"quantitative","axis":null},"detail":{"field":"s","type":"nominal"},"order":{"value":null}}},
{"data":{"name":"eb"},"mark":{"type":"rule","strokeWidth":1},
"encoding":{"x":{"field":"xlo","type":"quantitative","axis":{"orient":"bottom","values":[-0.95,-0.9,-0.85,-0.75,-0.7,-0.65,-0.55,-0.5,-0.45,-0.35,-0.3,-0.25],"labels":false,"tickSize":-3.5,"title":null}},"x2":{"field":"xhi"},
"y":{"field":"y","type":"quantitative","axis":{"orient":"left","values":[-2.45,-2.35,-2.3,-2.25,-2.15,-2.1,-2.05,-1.95,-1.9,-1.85,-1.75,-1.7,-1.65,-1.55,-1.5,-1.45,-1.35,-1.3,-1.25],"labels":false,"tickSize":-3.5,"title":null}},
"color":{"field":"k","type":"nominal","legend":null}}},
{"data":{"name":"eb"},"mark":{"type":"rule","strokeWidth":1},
"encoding":{"x":{"field":"x","type":"quantitative","axis":{"orient":"top","values":[-1.0,-0.8,-0.6,-0.4,-0.2],"labels":false,"tickSize":-7,"title":null}},
"y":{"field":"ylo","type":"quantitative","axis":{"orient":"right","values":[-2.4,-2.2,-2.0,-1.8,-1.6,-1.4,-1.2],"labels":false,"tickSize":-7,"title":null}},"y2":{"field":"yhi"},
"color":{"field":"k","type":"nominal","legend":null}}},
{"data":{"name":"eb"},"mark":{"type":"tick","orient":"horizontal","size":6,"thickness":1},"encoding":{"x":{"field":"x","type":"quantitative","axis":null},"y":{"field":"ylo","type":"quantitative","axis":{"orient":"left","values":[-1.2],"format":".1f","labelExpr":"replace(datum.label, '−', '-')","tickSize":-7,"labelPadding":12,"labelOffset":3,"title":null}},"color":{"field":"k","type":"nominal","legend":null}}},
{"data":{"name":"eb"},"mark":{"type":"tick","orient":"horizontal","size":6,"thickness":1},"encoding":{"x":{"field":"x","type":"quantitative","axis":null},"y":{"field":"yhi","type":"quantitative","axis":null},"color":{"field":"k","type":"nominal","legend":null}}},
{"data":{"name":"eb"},"mark":{"type":"tick","orient":"vertical","size":6,"thickness":1},"encoding":{"x":{"field":"xlo","type":"quantitative","axis":null},"y":{"field":"y","type":"quantitative","axis":null},"color":{"field":"k","type":"nominal","legend":null}}},
{"data":{"name":"eb"},"mark":{"type":"tick","orient":"vertical","size":6,"thickness":1},"encoding":{"x":{"field":"xhi","type":"quantitative","axis":null},"y":{"field":"y","type":"quantitative","axis":null},"color":{"field":"k","type":"nominal","legend":null}}},
{"data":{"name":"pb"},"transform":[{"filter":"datum.g == 'knot' || datum.g == 'sq'"}],"mark":{"type":"point","filled":false,"strokeWidth":1.2,"size":55,"opacity":1},
"encoding":{"x":{"field":"x","type":"quantitative","axis":{"orient":"top","values":[-0.95,-0.9,-0.85,-0.75,-0.7,-0.65,-0.55,-0.5,-0.45,-0.35,-0.3,-0.25],"labels":false,"tickSize":-3.5,"title":null}},
"y":{"field":"y","type":"quantitative","axis":{"orient":"right","values":[-2.45,-2.35,-2.3,-2.25,-2.15,-2.1,-2.05,-1.95,-1.9,-1.85,-1.75,-1.7,-1.65,-1.55,-1.5,-1.45,-1.35,-1.3,-1.25],"labels":false,"tickSize":-3.5,"title":null}},
"shape":{"field":"g","type":"nominal","legend":null,"scale":{"domain":["knot","solid","dash","sq","star"],"range":["circle","diamond","M-1,0L1,0M0,-1L0,1M-0.72,-0.72L0.72,0.72M-0.72,0.72L0.72,-0.72","square","circle"]}},
"color":{"field":"g","type":"nominal","legend":null}}},
{"data":{"name":"pb"},"transform":[{"filter":"datum.g == 'solid' || datum.g == 'dash'"}],"mark":{"type":"point","filled":false,"strokeWidth":1.2,"opacity":1},
"encoding":{"x":{"field":"x","type":"quantitative","axis":null},"y":{"field":"y","type":"quantitative","axis":null},
"shape":{"field":"g","type":"nominal","legend":null},"color":{"field":"g","type":"nominal","legend":null},
"size":{"field":"n","type":"quantitative","legend":null,"scale":{"domain":[1,3],"range":[22,130]}}}},
{"data":{"name":"fb"},"mark":{"type":"point","filled":true,"size":55,"opacity":1},
"encoding":{"x":{"field":"x","type":"quantitative","axis":null},"y":{"field":"y","type":"quantitative","axis":null},"shape":{"field":"g","type":"nominal","legend":null},"color":{"field":"g","type":"nominal","legend":null}}},
{"data":{"name":"tb"},"mark":{"type":"text","fontSize":10.5,"align":"center","baseline":"middle"},
"encoding":{"x":{"field":"x","type":"quantitative","axis":null},"y":{"field":"y","type":"quantitative","axis":null},"text":{"field":"t"},"color":{"field":"k","type":"nominal","legend":null}}},
{"data":{"name":"ob"},"mark":{"type":"text","fontSize":13,"align":"center","baseline":"middle"},
"encoding":{"x":{"field":"x","type":"quantitative","axis":null},"y":{"field":"y","type":"quantitative","axis":null},"text":{"field":"t"},"color":{"field":"k","type":"nominal","legend":null}}},
{"data":{"values":[{"t":"(b)","x":-0.291,"y":-1.309}]},"mark":{"type":"text","fontSize":21,"align":"center","baseline":"middle","color":"#111"},
"encoding":{"x":{"field":"x","type":"quantitative","axis":null},"y":{"field":"y","type":"quantitative","axis":null},"text":{"field":"t"}}}
]
}
]
}
